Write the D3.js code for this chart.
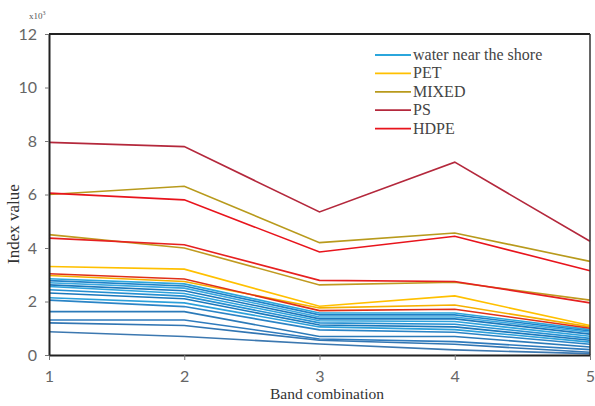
<!DOCTYPE html>
<html><head><meta charset="utf-8">
<script src="https://cdn.jsdelivr.net/npm/d3@7"></script>
<style>body{margin:0;background:#fff}svg{display:block}</style>
</head><body>
<script>
const bands = [1, 2, 3, 4, 5];
const yTicks = [0, 2, 4, 6, 8, 10, 12];

const water = [
  [2.85, 2.66, 1.57, 1.57, 0.95],
  [2.78, 2.58, 1.50, 1.50, 0.90],
  [2.70, 2.50, 1.42, 1.42, 0.85],
  [2.62, 2.40, 1.35, 1.35, 0.78],
  [2.56, 2.30, 1.28, 1.25, 0.70],
  [2.44, 2.20, 1.20, 1.15, 0.62],
  [2.32, 2.10, 1.12, 1.05, 0.55],
  [2.14, 1.95, 1.05, 0.95, 0.48],
  [2.05, 1.81, 0.94, 0.85, 0.40],
  [1.62, 1.62, 0.69, 0.69, 0.30],
  [1.31, 1.31, 0.60, 0.50, 0.20],
  [1.20, 1.10, 0.55, 0.40, 0.10],
  [0.87, 0.69, 0.41, 0.19, 0.05]
];
const pet = [
  [3.31, 3.21, 1.82, 2.21, 1.10],
  [2.97, 2.75, 1.76, 1.87, 1.05]
];
const mixed = [
  [6.00, 6.31, 4.20, 4.56, 3.50],
  [4.50, 4.00, 2.62, 2.72, 2.05]
];
const ps = [
  [7.95, 7.79, 5.35, 7.21, 4.25]
];
const hdpe = [
  [6.05, 5.80, 3.85, 4.44, 3.15],
  [4.37, 4.12, 2.79, 2.75, 1.95],
  [3.04, 2.84, 1.66, 1.71, 1.00]
];

const legendNames = ["water near the shore", "PET", "MIXED", "PS", "HDPE"];
const legendColors = ["#2ba6dc", "#ffc000", "#b89a1c", "#b4283c", "#e8141c"];
const waterShades = ["#2ba6dc", "#1f82c8", "#3aa8e0", "#1c78bc", "#2da2dc", "#2590d2", "#1a78bc", "#2ca0da", "#2a84c6", "#2c7ab8", "#2f7bbd", "#3276b3", "#3c78b0"];

const W = 595, H = 406;
const m = {l: 49, r: 5, t: 34, b: 51};
const svg = d3.select("body").append("svg").attr("width", W).attr("height", H);

const x = d3.scaleLinear().domain([1, 5]).range([m.l, W - m.r]);
const y = d3.scaleLinear().domain([0, 12]).range([H - m.b, m.t]);

const line = d3.line().x((d, i) => x(bands[i])).y(d => y(d));

const groups = [
  {data: water, colors: waterShades},
  {data: pet, colors: [legendColors[1], "#f5b000"]},
  {data: mixed, colors: [legendColors[2], "#c09a20"]},
  {data: hdpe, colors: [legendColors[4], "#e62020", "#e03018"]},
  {data: ps, colors: [legendColors[3]]}
];
groups.forEach(g => {
  svg.append("g").selectAll("path").data(g.data).join("path")
    .attr("d", line)
    .attr("fill", "none")
    .attr("stroke", (d, i) => g.colors[i % g.colors.length])
    .attr("stroke-width", 1.6);
});

// axes
const gx = svg.append("g").attr("transform", `translate(0,${H - m.b})`)
  .call(d3.axisBottom(x).tickValues(bands).tickFormat(d3.format("d")).tickSize(5).tickSizeOuter(0));
const gy = svg.append("g").attr("transform", `translate(${m.l},0)`)
  .call(d3.axisLeft(y).tickValues(yTicks).tickFormat(d3.format("d")).tickSize(4).tickSizeOuter(0));
[gx, gy].forEach(g => {
  g.select(".domain").attr("stroke", "#222").attr("stroke-width", 2);
  g.selectAll(".tick line").attr("stroke", "#777").attr("stroke-width", 1);
  g.selectAll("text").attr("fill", "#666").style("font-family", "Lato, 'Open Sans', sans-serif").style("font-size", "16px");
});
gx.selectAll("text").attr("dy", "1.2em");
gy.selectAll("text").attr("x", -12);

// frame top and right
svg.append("line").attr("x1", m.l).attr("x2", W - m.r).attr("y1", m.t).attr("y2", m.t).attr("stroke", "#222").attr("stroke-width", 2);
svg.append("line").attr("x1", W - m.r).attr("x2", W - m.r).attr("y1", m.t).attr("y2", H - m.b).attr("stroke", "#333").attr("stroke-width", 1.5);

// labels
svg.append("text").attr("x", 327).attr("y", 399).attr("text-anchor", "middle")
  .style("font-family", "'Liberation Serif', serif").style("font-size", "15.5px").attr("fill", "#333").text("Band combination");
svg.append("text").attr("transform", `translate(19,224) rotate(-90)`).attr("text-anchor", "middle")
  .style("font-family", "'Liberation Serif', serif").style("font-size", "17px").attr("fill", "#333").text("Index value");
const ex = svg.append("text").attr("x", 29).attr("y", 19)
  .style("font-family", "'Liberation Serif', serif").style("font-size", "9px").attr("fill", "#555");
ex.append("tspan").text("x10");
ex.append("tspan").attr("dy", -4).style("font-size", "6px").text("3");

// legend
const lg = svg.append("g").selectAll("g").data(legendNames).join("g")
  .attr("transform", (d, i) => `translate(375,${55 + i * 18.4})`);
lg.append("line").attr("x1", 0).attr("x2", 36).attr("stroke", (d, i) => legendColors[i]).attr("stroke-width", 1.8);
lg.append("text").attr("x", 38).attr("y", 5).text(d => d)
  .style("font-family", "'Liberation Serif', serif").style("font-size", "16px").attr("fill", "#444");
</script>
</body></html>
